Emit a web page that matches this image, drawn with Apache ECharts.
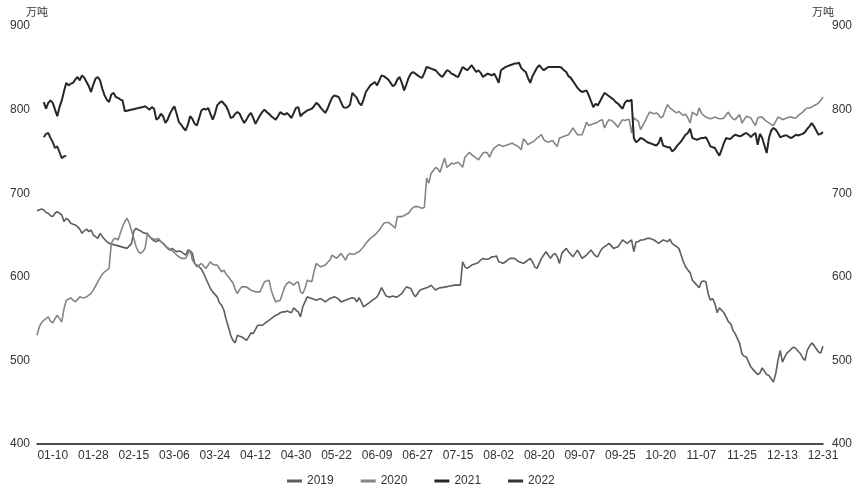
<!DOCTYPE html>
<html>
<head>
<meta charset="utf-8">
<script src="https://cdn.jsdelivr.net/npm/echarts@6/dist/echarts.min.js"></script>
<style>
html,body{margin:0;padding:0;background:#fff;}
#chart{width:863px;height:494px;}
</style>
</head>
<body>
<div id="chart"></div>
<script>
// Category axis: month-day strings from 01-03 to 12-31, skipping days without data
const monthDays = [31,28,31,30,31,30,31,31,30,31,30,31];
const excludedDays = ['03-01','04-05','05-01','05-02','05-03','05-04','10-01','10-02','10-03','10-04','10-05','10-06','10-07'];
const firstDay = '01-03';
const categories = [];
(function(){
  let started = false;
  for (let m = 1; m <= 12; m++) {
    for (let d = 1; d <= monthDays[m-1]; d++) {
      const s = String(m).padStart(2,'0') + '-' + String(d).padStart(2,'0');
      if (s === firstDay) started = true;
      if (started && excludedDays.indexOf(s) < 0) categories.push(s);
    }
  }
})();

const seriesNames = ['2019','2020','2021','2022'];
const yTicks = [400, 500, 600, 700, 800, 900];

const data2019 = [679,680,681,680,677,676,673,672,676,678,
676,674,666,670,668,664,663,662,660,657,
652,655,657,654,656,650,648,646,652,648,
645,642,640,null,null,null,null,null,null,null,
634,637,640,655,658,656,655,653,652,652,
648,645,643,642,644,642,640,637,634,632,
634,632,630,631,630,628,626,632,631,628,
616,614,612,609,604,598,592,586,582,579,
576,569,566,560,549,540,530,524,521,530,
529,528,526,524,528,533,532,537,542,542,
542,544,546,548,550,552,554,555,557,558,
558,559,558,557,563,560,558,552,564,570,
576,575,574,573,572,573,574,572,570,572,
574,575,576,575,573,570,571,572,573,574,
575,574,570,575,570,564,566,568,570,572,
574,576,581,587,582,577,576,576,577,576,
576,578,580,584,588,587,586,580,576,580,
584,585,586,587,588,590,587,584,586,587,
587,588,588,589,589,590,590,590,590,618,
612,610,612,614,615,616,617,620,622,621,
621,622,624,624,625,618,617,616,618,620,
622,622,622,620,618,617,616,618,620,622,
618,612,610,616,622,626,630,626,622,626,
628,624,616,628,631,634,630,627,624,628,
632,627,622,624,626,629,632,628,625,624,
630,634,636,638,640,637,634,635,636,640,
644,642,640,642,644,630,642,642,644,644,
645,646,646,645,644,642,640,642,644,643,
642,645,640,638,636,634,626,618,612,608,
605,596,593,590,587,594,595,594,580,572,
574,568,557,563,560,557,552,546,544,536,
532,526,520,508,505,504,498,492,489,486,
483,485,491,487,483,482,478,474,484,500,
512,498,504,509,511,514,516,514,511,508,
503,500,512,517,521,518,514,510,509,517];

const data2020 = [530,540,545,548,550,552,547,545,550,554,
550,546,562,572,573,575,572,570,573,576,
575,575,576,578,580,584,589,594,599,603,
606,608,610,640,645,646,644,652,660,666,
670,664,655,646,636,630,628,630,634,652,
648,646,645,645,646,642,640,637,635,633,
631,629,626,624,622,622,622,627,632,620,
616,612,614,616,613,610,614,618,615,614,
614,610,606,608,603,600,596,593,585,580,
585,588,588,588,586,584,583,582,582,582,
588,594,595,596,584,576,570,571,572,580,
588,592,594,592,590,593,594,582,580,586,
596,595,594,606,616,614,612,613,614,617,
620,626,624,622,625,628,624,620,626,628,
627,627,629,630,633,636,640,643,646,648,
650,653,656,660,664,665,665,663,661,658,
672,672,672,673,675,676,680,683,684,684,
683,682,683,718,712,724,727,731,729,725,
734,742,731,733,736,735,736,737,734,731,
743,746,749,746,744,742,740,744,748,749,
748,743,750,754,756,758,757,756,757,758,
759,760,758,757,755,752,765,762,758,760,
761,763,766,768,770,764,762,761,762,763,
759,756,766,767,768,769,770,774,778,774,
770,770,770,777,785,781,782,783,784,785,
787,788,778,784,788,787,785,782,779,784,
788,787,788,788,772,790,788,786,776,781,
786,792,797,796,795,796,794,790,792,800,
806,802,800,798,796,798,795,793,795,790,
784,797,795,793,802,796,793,791,790,789,
790,791,790,789,789,790,794,797,792,789,
788,791,794,784,788,792,791,790,785,781,
790,791,791,788,786,784,782,781,786,791,
790,788,789,790,791,791,790,790,793,795,
797,800,802,802,803,805,806,808,811,815];

const data2021 = [null,null,null,809,801,808,811,808,800,792,
803,811,822,832,829,831,832,836,839,835,
841,838,833,828,821,830,837,839,835,825,
817,812,809,818,820,815,814,812,811,798,
null,null,null,null,null,null,null,803,804,802,
800,803,801,788,790,795,792,784,788,795,
800,804,795,785,782,778,775,782,792,789,
783,781,790,799,801,800,802,795,788,795,
805,808,810,807,804,798,790,791,795,797,
795,789,784,788,793,796,790,783,788,793,
797,800,797,795,792,790,788,792,797,795,
794,796,793,790,796,802,803,792,795,797,
799,800,801,804,808,806,802,799,796,801,
808,814,817,816,815,809,803,802,803,806,
820,817,814,808,805,812,821,825,829,831,
833,829,835,841,840,838,836,832,828,830,
836,839,832,823,830,838,843,845,843,841,
839,838,844,851,850,849,848,847,844,841,
839,843,847,846,843,842,840,839,845,851,
849,847,850,853,849,845,847,844,839,841,
843,842,841,843,838,832,847,849,851,852,
853,854,855,855,856,850,847,845,838,832,
840,845,850,853,850,847,849,851,851,851,
851,851,851,850,847,845,840,838,834,830,
826,823,821,822,823,817,810,803,807,805,
810,815,820,818,816,814,812,809,807,804,
801,808,811,810,812,766,761,763,766,765,
763,761,760,759,758,757,760,767,757,756,
755,755,750,752,756,759,762,766,770,772,
777,766,765,764,765,766,766,767,762,756,
755,754,749,745,752,760,766,765,765,768,
770,769,768,769,771,772,770,767,770,772,
758,771,766,757,748,766,775,778,776,772,
767,768,769,769,767,766,768,770,769,770,
771,773,777,780,784,780,775,770,771,773];

const data2022 = [null,null,null,767,771,772,766,761,754,756,749,742,744,745];

const seriesData = [data2019, data2020, data2021, data2022];
const seriesColors = ['#5e5e5e', '#858585', '#262626', '#333333'];
const seriesWidths = [1.6, 1.6, 2, 2];

const chart = echarts.init(document.getElementById('chart'), null, {renderer: 'canvas'});
const lastIdx = categories.length - 1;
const font = 'Arial, "Liberation Sans", "Noto Sans CJK SC", sans-serif';

function yAxisDef(pos, margin) {
  return {
    type: 'value',
    position: pos,
    min: yTicks[0],
    max: yTicks[yTicks.length - 1],
    interval: 100,
    name: '万吨',
    nameLocation: 'end',
    nameGap: 8,
    nameTextStyle: {color: '#333', fontSize: 11, fontFamily: font, align: 'center'},
    axisLine: {show: false},
    axisTick: {show: false},
    splitLine: {show: false},
    axisLabel: {color: '#333', fontSize: 12, fontFamily: font, margin: margin}
  };
}

chart.setOption({
  animation: false,
  backgroundColor: '#fff',
  grid: {left: 37, right: 40, top: 26, bottom: 50, containLabel: false},
  legend: {
    data: seriesNames,
    top: 470,
    left: 282,
    icon: 'rect',
    itemWidth: 15,
    itemHeight: 3,
    itemGap: 27,
    textStyle: {color: '#333', fontSize: 12, fontFamily: font}
  },
  xAxis: {
    type: 'category',
    data: categories,
    boundaryGap: false,
    axisLine: {show: true, lineStyle: {color: '#111', width: 1.5}},
    axisTick: {show: false},
    axisLabel: {
      color: '#333', fontSize: 12, fontFamily: font, margin: 6,
      interval: function (idx) { return (lastIdx - idx) % 18 === 0; }
    }
  },
  yAxis: [yAxisDef('left', 7), yAxisDef('right', 9)],
  series: seriesNames.map(function (n, k) {
    return {
      name: n,
      type: 'line',
      data: seriesData[k],
      yAxisIndex: 0,
      symbol: 'none',
      showSymbol: false,
      connectNulls: true,
      color: seriesColors[k],
      lineStyle: {color: seriesColors[k], width: seriesWidths[k]},
      z: k + 2
    };
  })
});
</script>
</body>
</html>
